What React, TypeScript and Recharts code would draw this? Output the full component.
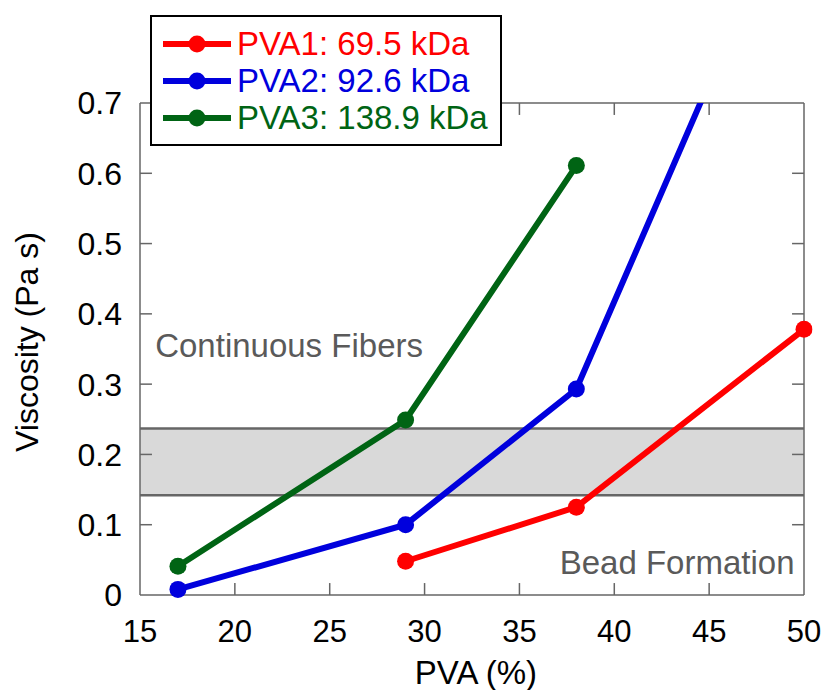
import React from 'react';
import {
  LineChart,
  Line,
  XAxis,
  YAxis,
  ReferenceArea,
  ReferenceLine,
  ReferenceDot,
  Legend,
} from 'recharts';

const FONT = '"Liberation Sans", Arial, Helvetica, sans-serif';

const seriesNames = ['PVA1: 69.5 kDa', 'PVA2: 92.6 kDa', 'PVA3: 138.9 kDa'];
const seriesColors = ['#ff0000', '#0000dd', '#006414'];

const pva1X = [29, 38, 50];
const pva1Y = [0.048, 0.125, 0.378];
const pva2X = [17, 29, 38, 50];
const pva2Y = [0.008, 0.1, 0.293, 1.04];
const pva3X = [17, 29, 38];
const pva3Y = [0.041, 0.249, 0.611];

const xTicks = [15, 20, 25, 30, 35, 40, 45, 50];
const yTicks = [0, 0.1, 0.2, 0.3, 0.4, 0.5, 0.6, 0.7];

const X_MIN = 15;
const X_MAX = 50;
const Y_MIN = 0;
const Y_MAX = 0.7;

const bandLow = 0.142;
const bandHigh = 0.237;

const build = (xs: number[], ys: number[]) => xs.map((x, i) => ({ x, y: ys[i] }));
const seriesData = [build(pva1X, pva1Y), build(pva2X, pva2Y), build(pva3X, pva3Y)];

const AXIS = '#666666';
const NOTE = '#5a5a5a';

// inward tick length expressed in data units (~12px)
const TICK_DX = 0.63;
const TICK_DY = 0.017;

const LegendBox = () => (
  <div
    style={{
      position: 'relative',
      width: 352,
      height: 131,
      boxSizing: 'border-box',
      border: '2px solid #000',
      background: '#fff',
      fontFamily: FONT,
    }}
  >
    {seriesNames.map((name, i) => (
      <div
        key={name}
        style={{
          position: 'absolute',
          left: 11,
          top: 8 + i * 37,
          height: 37,
          display: 'flex',
          alignItems: 'center',
          whiteSpace: 'nowrap',
        }}
      >
        <svg width={68} height={20} style={{ display: 'block' }}>
          <line x1={0} y1={10} x2={68} y2={10} stroke={seriesColors[i]} strokeWidth={6} />
          <circle cx={34} cy={10} r={8.5} fill={seriesColors[i]} />
        </svg>
        <span style={{ marginLeft: 6, fontSize: 33, color: seriesColors[i], lineHeight: '37px' }}>
          {name}
        </span>
      </div>
    ))}
  </div>
);

export default function App() {
  const refProps = { xAxisId: 'bottom', yAxisId: 'left', ifOverflow: 'visible' as const };
  return (
    <div style={{ position: 'absolute', left: 0, top: 0, width: 824, height: 690, background: '#fff' }}>
      <LineChart
        width={824}
        height={690}
        margin={{ top: 103, right: 20, bottom: 0, left: 0 }}
        style={{ fontFamily: FONT }}
      >
        <XAxis
          xAxisId="bottom"
          dataKey="x"
          type="number"
          domain={[X_MIN, X_MAX]}
          ticks={xTicks}
          orientation="bottom"
          height={95}
          allowDataOverflow
          axisLine={false}
          tickLine={false}
          tickSize={0}
          tickMargin={25}
          tick={{ fill: '#000', fontSize: 31, fontFamily: FONT }}
          label={{
            content: () => (
              <text x={476} y={684} textAnchor="middle" fontSize={33} fontFamily={FONT} fill="#000">
                PVA (%)
              </text>
            ),
          }}
        />
        <YAxis
          yAxisId="left"
          type="number"
          domain={[Y_MIN, Y_MAX]}
          ticks={yTicks}
          orientation="left"
          width={140}
          allowDataOverflow
          axisLine={false}
          tickLine={false}
          tickSize={0}
          tickMargin={18}
          tick={{ fill: '#000', fontSize: 32, fontFamily: FONT }}
          label={{
            content: () => (
              <text
                x={38}
                y={342}
                transform="rotate(-90 38 342)"
                textAnchor="middle"
                fontSize={32}
                fontFamily={FONT}
                fill="#000"
              >
                Viscosity (Pa s)
              </text>
            ),
          }}
        />

        <ReferenceArea
          {...refProps}
          y1={bandLow}
          y2={bandHigh}
          fill="#d9d9d9"
          fillOpacity={1}
          stroke="none"
        />
        <ReferenceLine {...refProps} y={bandLow} stroke={AXIS} strokeWidth={2.5} />
        <ReferenceLine {...refProps} y={bandHigh} stroke={AXIS} strokeWidth={2.5} />

        {/* axis frame */}
        <ReferenceLine {...refProps} x={X_MIN} stroke={AXIS} strokeWidth={1.5} />
        <ReferenceLine {...refProps} x={X_MAX} stroke={AXIS} strokeWidth={1.5} />
        <ReferenceLine {...refProps} y={Y_MIN} stroke={AXIS} strokeWidth={1.5} />
        <ReferenceLine {...refProps} y={Y_MAX} stroke={AXIS} strokeWidth={1.5} />

        {/* inward ticks */}
        {xTicks.slice(1, -1).map((t) => (
          <ReferenceLine
            key={`xb${t}`}
            {...refProps}
            segment={[{ x: t, y: Y_MIN }, { x: t, y: Y_MIN + TICK_DY }]}
            stroke={AXIS}
            strokeWidth={1.5}
          />
        ))}
        {xTicks.slice(1, -1).map((t) => (
          <ReferenceLine
            key={`xt${t}`}
            {...refProps}
            segment={[{ x: t, y: Y_MAX }, { x: t, y: Y_MAX - TICK_DY }]}
            stroke={AXIS}
            strokeWidth={1.5}
          />
        ))}
        {yTicks.slice(1, -1).map((t) => (
          <ReferenceLine
            key={`yl${t}`}
            {...refProps}
            segment={[{ x: X_MIN, y: t }, { x: X_MIN + TICK_DX, y: t }]}
            stroke={AXIS}
            strokeWidth={1.5}
          />
        ))}
        {yTicks.slice(1, -1).map((t) => (
          <ReferenceLine
            key={`yr${t}`}
            {...refProps}
            segment={[{ x: X_MAX, y: t }, { x: X_MAX - TICK_DX, y: t }]}
            stroke={AXIS}
            strokeWidth={1.5}
          />
        ))}

        <ReferenceDot
          {...refProps}
          x={15.8}
          y={0.339}
          r={0}
          stroke="none"
          fill="none"
          label={{
            content: (p: any) => (
              <text x={p.viewBox.x} y={p.viewBox.y} textAnchor="start" fontSize={33} fontFamily={FONT} fill={NOTE}>
                Continuous Fibers
              </text>
            ),
          }}
        />
        <ReferenceDot
          {...refProps}
          x={49.5}
          y={0.03}
          r={0}
          stroke="none"
          fill="none"
          label={{
            content: (p: any) => (
              <text x={p.viewBox.x} y={p.viewBox.y} textAnchor="end" fontSize={33} fontFamily={FONT} fill={NOTE}>
                Bead Formation
              </text>
            ),
          }}
        />

        {seriesData.map((d, i) => (
          <Line
            key={seriesNames[i]}
            xAxisId="bottom"
            yAxisId="left"
            data={d}
            dataKey="y"
            name={seriesNames[i]}
            stroke={seriesColors[i]}
            strokeWidth={6}
            dot={{ r: 8.5, fill: seriesColors[i], stroke: seriesColors[i], strokeWidth: 0, clipDot: false } as any}
            activeDot={false}
            isAnimationActive={false}
          />
        ))}

        <Legend
          layout="vertical"
          align="center"
          verticalAlign="middle"
          content={() => <LegendBox />}
          wrapperStyle={{ left: 150, top: 15, width: 352, height: 131 }}
        />
      </LineChart>
    </div>
  );
}
